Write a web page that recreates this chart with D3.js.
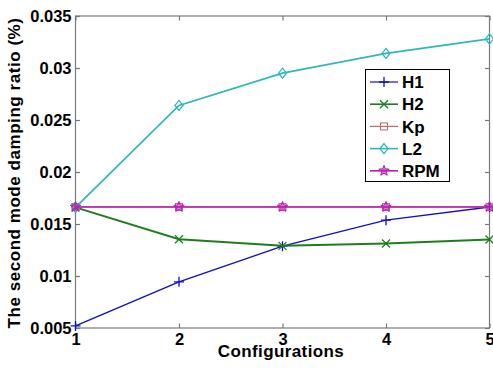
<!DOCTYPE html>
<html><head><meta charset="utf-8">
<script src="https://cdn.jsdelivr.net/npm/d3@7"></script>
<style>body{margin:0;background:#fff}svg{display:block}text{font-family:"Liberation Sans",Arial,sans-serif;font-weight:bold}</style>
</head><body><svg id="c" width="493" height="370"></svg>
<script>
const configs = [1, 2, 3, 4, 5];
const H1 = [0.0052, 0.00944, 0.01287, 0.01537, 0.01664];
const H2 = [0.0166, 0.01354, 0.01290, 0.01313, 0.01351];
const Kp = [0.01664, 0.01664, 0.01664, 0.01664, 0.01664];
const L2 = [0.0166, 0.0264, 0.0295, 0.0314, 0.0328];
const RPM = [0.01664, 0.01664, 0.01664, 0.01664, 0.01664];
const yTicks = [0.005, 0.01, 0.015, 0.02, 0.025, 0.03, 0.035];
const yTickLabels = ["0.005", "0.01", "0.015", "0.02", "0.025", "0.03", "0.035"];
const seriesNames = ["H1", "H2", "Kp", "L2", "RPM"];
const seriesValues = [H1, H2, Kp, L2, RPM];
const colors = ["#1010c8", "#1e7e1e", "#c06868", "#30b8b8", "#b81cb8"];
const markers = ["plus", "x", "square", "diamond", "star"];

const svg = d3.select("#c");
const L = 75.5, R = 489.5, T = 16, B = 328;
const x = d3.scaleLinear().domain([1, 5]).range([L, R]);
const y = d3.scaleLinear().domain([0.005, 0.035]).range([B, T]);
const axisCol = "#7a7a7a";
const FF = '"Liberation Sans",Arial,sans-serif';

svg.append("rect").attr("x", L).attr("y", T).attr("width", R - L).attr("height", B - T)
  .attr("fill", "none").attr("stroke", axisCol).attr("stroke-width", 1.2);

const tl = 4.5;
const gB = svg.append("g").attr("transform", `translate(0,${B})`)
  .call(d3.axisBottom(x).tickValues(configs).tickFormat(d3.format("d")).tickSize(-tl).tickPadding(5));
const gT = svg.append("g").attr("transform", `translate(0,${T})`)
  .call(d3.axisTop(x).tickValues(configs).tickFormat("").tickSize(-tl));
const gL = svg.append("g").attr("transform", `translate(${L},0)`)
  .call(d3.axisLeft(y).tickValues(yTicks).tickFormat((d, i) => yTickLabels[i]).tickSize(-tl).tickPadding(4));
const gR = svg.append("g").attr("transform", `translate(${R},0)`)
  .call(d3.axisRight(y).tickValues(yTicks).tickFormat("").tickSize(-tl));
[gB, gT, gL, gR].forEach(g => {
  g.select(".domain").remove();
  g.selectAll(".tick line").attr("stroke", axisCol).attr("stroke-width", 1.2);
  g.selectAll(".tick text").attr("fill", "#000").style("font-size", "16.5px").style("font-family", FF).style("font-weight", "bold");
});
gB.selectAll(".tick text").attr("dy", "0.71em");
gL.selectAll(".tick text").attr("dy", "0.36em");

function drawMarker(g, type, cx, cy, col) {
  const s = 4;
  if (type === "plus") {
    g.append("path").attr("d", `M${cx - s - 1},${cy}H${cx + s + 1}M${cx},${cy - s - 1}V${cy + s + 1}`).attr("stroke", col).attr("stroke-width", 1.3).attr("fill", "none");
  } else if (type === "x") {
    g.append("path").attr("d", `M${cx - s},${cy - s}L${cx + s},${cy + s}M${cx - s},${cy + s}L${cx + s},${cy - s}`).attr("stroke", col).attr("stroke-width", 1.3).attr("fill", "none");
  } else if (type === "square") {
    g.append("rect").attr("x", cx - 3.5).attr("y", cy - 3.5).attr("width", 7).attr("height", 7).attr("stroke", col).attr("stroke-width", 1).attr("fill", "none");
  } else if (type === "diamond") {
    g.append("path").attr("d", `M${cx},${cy - 5}L${cx + 4},${cy}L${cx},${cy + 5}L${cx - 4},${cy}Z`).attr("stroke", col).attr("stroke-width", 1.3).attr("fill", "none");
  } else if (type === "star") {
    const pts = [];
    for (let k = 0; k < 10; k++) {
      const r = k % 2 === 0 ? 5.5 : 2.4;
      const a = -Math.PI / 2 + k * Math.PI / 5;
      pts.push([cx + r * Math.cos(a), cy + r * Math.sin(a)]);
    }
    g.append("path").attr("d", "M" + pts.map(p => p.join(",")).join("L") + "Z").attr("stroke", col).attr("stroke-width", 1).attr("fill", col).attr("fill-opacity", 0.6);
  }
}

const line = d3.line().x((d, i) => x(configs[i])).y(d => y(d));
const widths = [1.4, 2, 1.2, 1.8, 1.6];
seriesValues.forEach((vals, si) => {
  const g = svg.append("g");
  g.append("path").datum(vals).attr("d", line).attr("fill", "none").attr("stroke", colors[si]).attr("stroke-width", widths[si]);
  vals.forEach((v, i) => drawMarker(g, markers[si], x(configs[i]), y(v), colors[si]));
});

const lg = svg.append("g");
lg.append("rect").attr("x", 365.5).attr("y", 69.5).attr("width", 84).attr("height", 112).attr("fill", "#fff").attr("stroke", "#000").attr("stroke-width", 1);
seriesNames.forEach((n, i) => {
  const cy = 82 + i * 22.2;
  lg.append("line").attr("x1", 370).attr("x2", 398).attr("y1", cy).attr("y2", cy).attr("stroke", colors[i]).attr("stroke-width", widths[i] > 1.5 ? 1.6 : 1.2);
  drawMarker(lg, markers[i], 384, cy, colors[i]);
  lg.append("text").attr("x", 402).attr("y", cy).attr("dy", "0.36em").style("font-size", "17px").text(n);
});

svg.append("text").attr("x", 281).attr("y", 357).attr("text-anchor", "middle").style("font-size", "17px").style("letter-spacing", "0.4px").text("Configurations");
svg.append("text").attr("transform", `translate(20,${(T + B) / 2 + 1}) rotate(-90)`).attr("text-anchor", "middle").style("font-size", "17px").style("letter-spacing", "0.55px").text("The second mode damping ratio (%)");
</script></body></html>
